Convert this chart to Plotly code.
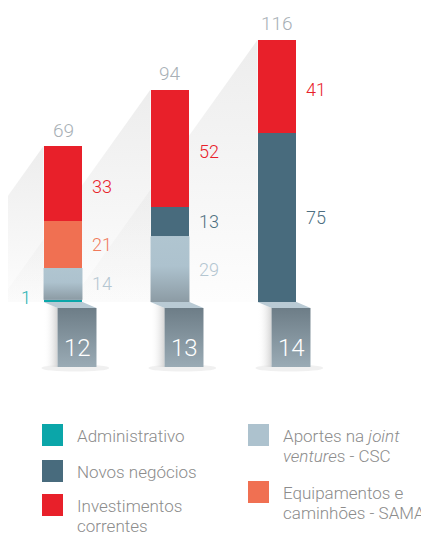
import plotly.graph_objects as go

years = ["12", "13", "14"]
totals = [69, 94, 116]

administrativo = [1, 0, 0]
aportes = [14, 29, 0]
novos = [0, 13, 75]
equipamentos = [21, 0, 0]
investimentos = [33, 52, 41]

series_names = ["Administrativo", "Aportes na <i>joint</i>\n<i>venture</i>s - CSC", "Novos negócios",
                "Equipamentos e\ncaminhões - SAMA", "Investimentos\ncorrentes"]
series_values = [administrativo, aportes, novos, equipamentos, investimentos]
series_colors = ["#0ba6a9", "#adc2ce", "#486b7d", "#f07052", "#e8202a"]
label_colors = ["#22b2b3", "#b4c6d1", "#4d6f81", "#f07a5c", "#e8202a"]

FONT = "Roboto"
W = 0.364          # bar width in x units
OFF = 0.131        # pedestal shift to the right
PX = 2.26          # pixels per y unit
UX = 107           # pixels per x unit
WD, H = 429, 535
SHIFT = 8          # page body margin
xs = list(range(len(years)))

fig = go.Figure()

# soft diagonal shadows behind the bars
for i, t in enumerate(totals):
    left = i - W / 2
    dx = t * PX / 1.4 / UX
    fig.add_trace(go.Scatter(
        x=[left, left, left - dx, left], y=[t, 0, 0, t], fill="toself", mode="none",
        fillgradient=dict(type="vertical", start=0, stop=t,
                          colorscale=[[0, "rgba(205,205,205,0.04)"], [1, "rgba(205,205,205,0.36)"]]),
        hoverinfo="skip", showlegend=False, zorder=-2))

# pedestals
for i, yr in enumerate(years):
    l, r = i - W / 2, i + W / 2
    fig.add_trace(go.Scatter(
        x=[l, l + OFF, l + OFF, l, l], y=[0, -2.65, -28.8, -28.8, 0], fill="toself", mode="none",
        fillgradient=dict(type="horizontal", start=l, stop=l + OFF,
                          colorscale=[[0, "rgba(255,255,255,0)"], [1, "rgba(212,212,212,1)"]]),
        hoverinfo="skip", showlegend=False, zorder=-1))
    fig.add_trace(go.Scatter(
        x=[l, r, r + OFF, l + OFF, l], y=[0, 0, -2.65, -2.65, 0], fill="toself", mode="none",
        fillcolor="#b9cad4", hoverinfo="skip", showlegend=False))
    fig.add_trace(go.Scatter(
        x=[l + OFF, r + OFF, r + OFF, l + OFF, l + OFF], y=[-2.65, -2.65, -28.8, -28.8, -2.65],
        fill="toself", mode="none",
        fillgradient=dict(type="vertical", start=-28.8, stop=-2.65,
                          colorscale=[[0, "#9aabb5"], [1, "#6d7d87"]]),
        hoverinfo="skip", showlegend=False))
    fig.add_shape(type="circle", xref="x", yref="y", x0=l - 0.02, x1=r + OFF + 0.12, y0=-30.8, y1=-27.6,
                  fillcolor="rgba(0,0,0,0.06)", line_width=0, layer="below")
    fig.add_annotation(x=i + OFF, y=-20.3, text=yr, showarrow=False,
                       font=dict(family=FONT, size=24, color="white", weight=300))

# stacked bars
base = [0] * len(years)
for k, (name, vals) in enumerate(zip(series_names, series_values)):
    fig.add_trace(go.Bar(x=xs, y=vals, width=W, marker=dict(color=series_colors[k], line_width=0),
                         name=name, showlegend=False, hoverinfo="skip", zorder=0))
    for i, v in enumerate(vals):
        if not v:
            continue
        if k == 1:
            # gradient on the joint venture segment
            l, r = i - W / 2, i + W / 2
            b0, b1 = base[i], base[i] + v
            fig.add_trace(go.Scatter(
                x=[l, r, r, l, l], y=[b0, b0, b1, b1, b0], fill="toself", mode="none",
                fillgradient=dict(type="vertical", start=b0, stop=b1,
                                  colorscale=[[0, "#8c9ba4"], [0.55, "#adc2ce"], [1, "#b0c5d0"]]),
                hoverinfo="skip", showlegend=False, zorder=1))
        if v < 3:
            fig.add_annotation(x=i - W / 2, y=base[i] + v / 2, text=str(v), showarrow=False,
                               xanchor="right", xshift=-11, yshift=3,
                               font=dict(family=FONT, size=18, color=label_colors[k], weight=300))
        else:
            fig.add_annotation(x=i + W / 2, y=base[i] + v / 2, text=str(v), showarrow=False,
                               xanchor="left", xshift=8, yshift=-3 if k == 4 else 0,
                               font=dict(family=FONT, size=18, color=label_colors[k], weight=300))
    base = [b + v for b, v in zip(base, vals)]

for i, t in enumerate(totals):
    fig.add_annotation(x=i, y=t, text=str(t), showarrow=False, yshift=16,
                       font=dict(family=FONT, size=19, color="#a8b0b6", weight=300))

# legend drawn by hand (two columns), positions in reference pixels
def px(v):
    return (v - SHIFT) / WD

def py(v):
    return 1 - (v - SHIFT) / H

legend_order = [0, 2, 4, 1, 3]
legend_pos = [(42, 424), (42, 460), (42, 494), (248, 424), (248, 481)]
for k, (sx, sy) in zip(legend_order, legend_pos):
    fig.add_shape(type="rect", xref="paper", yref="paper", x0=px(sx), x1=px(sx + 21),
                  y0=py(sy), y1=py(sy + 22), fillcolor=series_colors[k], line_width=0)
    for j, line in enumerate(series_names[k].split("\n")):
        fig.add_annotation(xref="paper", yref="paper", x=px(sx + 33), y=py(sy + 12 + 19.5 * j),
                           text=line, showarrow=False, xanchor="left", yanchor="middle",
                           font=dict(family=FONT, size=17, color="#8c8c8c", weight=300))

x0 = -(63 - SHIFT) / UX
y0 = -(H - (302 - SHIFT)) / PX
fig.update_layout(
    width=WD, height=H, margin=dict(l=0, r=0, t=0, b=0),
    barmode="stack", bargap=0,
    plot_bgcolor="white", paper_bgcolor="white",
    xaxis=dict(range=[x0, x0 + WD / UX], visible=False, fixedrange=True),
    yaxis=dict(range=[y0, y0 + H / PX], visible=False, fixedrange=True),
    showlegend=False,
)

fig.write_html("out.html")
